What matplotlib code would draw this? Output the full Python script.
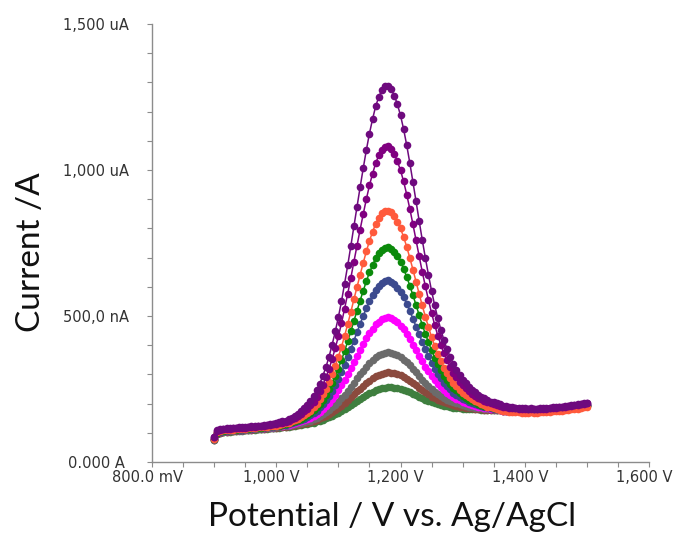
#!/usr/bin/env python3
"""Differential pulse voltammograms (current vs. potential, Ag/AgCl ref)."""

import numpy as np
import matplotlib
matplotlib.use("Agg")
import matplotlib.pyplot as plt
from matplotlib.ticker import FixedLocator, MultipleLocator
from matplotlib.transforms import ScaledTranslation

# scan: 0.900 V -> 1.500 V, 5 mV steps
potential = np.linspace(0.900, 1.500, 121)

# currents in nA, one list per concentration (highest first)
cur_1 = [86, 108, 112, 114, 115, 116, 117, 118, 119, 119, 120, 121, 122, 123,
         125, 125, 127, 128, 130, 131, 134, 136, 139, 142, 147, 152, 159, 165,
         174, 184, 195, 208, 225, 245, 268, 295, 325, 361, 402, 447, 496, 550,
         611, 673, 739, 807, 874, 941, 1006, 1068, 1125, 1174, 1218, 1250, 1274, 1287,
         1288, 1277, 1255, 1225, 1187, 1140, 1085, 1024, 959, 893, 826, 761, 699, 641,
         586, 537, 492, 453, 417, 386, 360, 336, 316, 298, 282, 269, 258, 248,
         239, 231, 224, 219, 212, 207, 204, 201, 197, 193, 191, 189, 188, 186,
         185, 184, 184, 183, 184, 183, 183, 184, 184, 185, 186, 187, 188, 189,
         190, 192, 193, 194, 196, 197, 199, 201, 203]
cur_2 = [84, 106, 110, 112, 113, 114, 115, 116, 117, 117, 118, 119, 120, 121,
         123, 123, 125, 126, 128, 129, 131, 132, 135, 138, 142, 147, 152, 158,
         165, 173, 183, 194, 207, 224, 243, 265, 290, 319, 353, 390, 430, 475,
         525, 576, 630, 686, 741, 796, 849, 900, 947, 987, 1023, 1050, 1069, 1080,
         1081, 1072, 1055, 1030, 999, 961, 916, 867, 814, 760, 705, 652, 602, 555,
         510, 470, 433, 401, 372, 348, 326, 306, 290, 275, 263, 252, 242, 234,
         227, 220, 215, 210, 205, 201, 198, 196, 193, 189, 187, 185, 185, 184,
         183, 182, 182, 181, 182, 181, 181, 182, 182, 183, 184, 185, 186, 187,
         188, 190, 191, 192, 194, 195, 197, 199, 201]
cur_3 = [80, 102, 106, 108, 109, 110, 111, 112, 113, 113, 114, 115, 116, 117,
         119, 119, 120, 121, 123, 124, 125, 127, 130, 132, 135, 139, 143, 148,
         154, 160, 168, 176, 187, 200, 215, 232, 251, 274, 300, 329, 360, 394,
         432, 472, 513, 557, 599, 641, 682, 721, 757, 788, 816, 837, 852, 860,
         861, 855, 842, 823, 800, 771, 737, 699, 659, 618, 576, 536, 498, 462,
         428, 398, 370, 346, 323, 305, 287, 272, 260, 248, 238, 228, 221, 215,
         210, 204, 198, 195, 190, 187, 185, 181, 179, 176, 175, 172, 171, 171,
         170, 169, 169, 169, 170, 169, 169, 170, 170, 171, 172, 173, 174, 175,
         176, 178, 179, 180, 182, 183, 185, 187, 189]
cur_4 = [79, 101, 105, 107, 108, 109, 110, 111, 112, 112, 113, 114, 115, 116,
         118, 118, 119, 120, 122, 122, 124, 125, 128, 130, 132, 136, 140, 143,
         148, 154, 160, 168, 177, 188, 200, 214, 230, 249, 271, 294, 320, 349,
         380, 413, 447, 483, 518, 553, 586, 619, 649, 674, 698, 715, 727, 734,
         735, 730, 720, 705, 686, 662, 634, 604, 571, 538, 503, 470, 439, 410,
         382, 357, 334, 315, 296, 281, 267, 254, 245, 236, 227, 220, 213, 209,
         205, 199, 196, 192, 189, 187, 184, 183, 181, 178, 177, 175, 175, 174,
         174, 173, 173, 173, 174, 173, 173, 174, 174, 175, 176, 177, 178, 179,
         180, 182, 183, 184, 186, 187, 189, 191, 193]
cur_5 = [78, 100, 104, 106, 107, 108, 109, 110, 111, 111, 112, 113, 114, 115,
         116, 116, 118, 119, 120, 121, 122, 124, 126, 128, 130, 133, 136, 139,
         144, 148, 153, 160, 167, 176, 187, 198, 211, 226, 244, 263, 284, 307,
         333, 359, 387, 416, 444, 473, 500, 527, 551, 571, 590, 604, 614, 621,
         622, 617, 609, 597, 582, 564, 542, 517, 491, 464, 437, 411, 386, 363,
         340, 320, 302, 286, 272, 260, 249, 238, 231, 223, 217, 211, 206, 203,
         199, 195, 192, 190, 188, 185, 183, 182, 181, 178, 177, 176, 175, 175,
         174, 174, 174, 173, 174, 174, 174, 175, 175, 176, 177, 178, 179, 180,
         181, 183, 184, 185, 187, 188, 190, 192, 194]
cur_6 = [78, 100, 104, 106, 107, 108, 109, 110, 111, 111, 112, 113, 114, 115,
         116, 116, 118, 119, 120, 120, 122, 123, 125, 126, 128, 131, 133, 136,
         139, 143, 147, 152, 157, 165, 172, 181, 191, 202, 216, 230, 245, 262,
         281, 301, 321, 342, 363, 384, 404, 424, 441, 457, 471, 481, 489, 494,
         495, 492, 486, 478, 467, 454, 438, 421, 402, 383, 363, 345, 327, 311,
         294, 280, 267, 256, 245, 237, 229, 221, 216, 211, 206, 201, 198, 196,
         193, 190, 188, 186, 184, 182, 181, 180, 179, 176, 176, 175, 175, 174,
         174, 174, 174, 173, 174, 174, 174, 175, 175, 176, 177, 178, 179, 180,
         181, 183, 184, 185, 187, 188, 190, 192, 194]
cur_7 = [76, 98, 102, 104, 105, 106, 107, 108, 109, 109, 110, 111, 112, 113,
         114, 114, 115, 116, 118, 118, 119, 120, 122, 123, 125, 127, 129, 131,
         133, 136, 139, 142, 146, 152, 157, 163, 170, 177, 187, 196, 207, 218,
         231, 244, 258, 272, 286, 300, 313, 327, 339, 349, 359, 366, 371, 375,
         376, 374, 371, 366, 359, 351, 341, 331, 319, 307, 294, 282, 271, 261,
         250, 241, 233, 226, 219, 214, 209, 204, 201, 198, 195, 191, 189, 188,
         186, 185, 184, 182, 181, 181, 180, 178, 178, 176, 176, 175, 175, 175,
         175, 174, 174, 174, 175, 175, 175, 176, 176, 177, 178, 179, 180, 181,
         182, 184, 185, 186, 188, 189, 191, 193, 195]
cur_8 = [75, 97, 101, 103, 104, 105, 106, 107, 108, 108, 109, 110, 111, 112,
         113, 113, 114, 115, 116, 117, 118, 119, 120, 121, 123, 125, 126, 128,
         130, 132, 135, 137, 140, 145, 149, 153, 158, 163, 171, 177, 185, 193,
         203, 212, 221, 232, 242, 251, 261, 271, 279, 287, 294, 299, 303, 306,
         307, 306, 304, 301, 297, 292, 285, 278, 270, 262, 254, 246, 239, 232,
         224, 219, 213, 209, 204, 201, 197, 194, 192, 190, 188, 186, 185, 184,
         183, 182, 180, 179, 179, 178, 178, 177, 177, 175, 175, 175, 175, 175,
         174, 174, 174, 174, 175, 175, 175, 176, 176, 177, 178, 179, 180, 181,
         182, 184, 185, 186, 188, 189, 191, 193, 195]
cur_9 = [74, 96, 100, 102, 103, 104, 105, 106, 107, 107, 108, 109, 110, 111,
         112, 112, 113, 114, 115, 115, 116, 118, 119, 120, 121, 123, 124, 126,
         127, 129, 131, 133, 135, 139, 142, 145, 149, 153, 158, 163, 168, 174,
         181, 187, 194, 202, 209, 216, 222, 229, 235, 240, 246, 250, 253, 255,
         256, 256, 255, 253, 251, 247, 244, 239, 234, 230, 224, 219, 214, 210,
         205, 202, 198, 196, 192, 191, 188, 186, 185, 184, 183, 182, 181, 181,
         181, 180, 179, 179, 178, 178, 178, 177, 177, 176, 176, 176, 175, 175,
         175, 175, 175, 175, 176, 176, 176, 177, 177, 178, 179, 180, 181, 182,
         183, 185, 186, 187, 189, 190, 192, 194, 196]

series = [cur_9, cur_8, cur_7, cur_6, cur_5, cur_4, cur_3, cur_2, cur_1]
colors = ["#3f7f3f", "#8b4a3e", "#6b6b6b", "#ff00ff", "#3c4a8e",
          "#0b8a0b", "#ff5a3c", "#800080", "#6e0a7e"]

x_ticks = [0.8, 1.0, 1.2, 1.4, 1.6]
x_labels = ["800.0 mV", "1,000 V", "1,200 V", "1,400 V", "1,600 V"]
y_ticks = [0, 500, 1000, 1500]
y_labels = ["0.000 A", "500,0 nA", "1,000 uA", "1,500 uA"]

fig = plt.figure(figsize=(6.75, 5.4), dpi=100)
ax = fig.add_axes([152 / 675, 1 - 462 / 540, 497 / 675, 438 / 540])

for cur, col in zip(series, colors):
    ax.plot(potential, cur, color=col, lw=1.1, marker="o", ms=5.5,
            markeredgewidth=0, zorder=3)

ax.set_xlim(0.8, 1.6)
ax.set_ylim(0, 1500)

for side in ("top", "right"):
    ax.spines[side].set_visible(False)
for side in ("left", "bottom"):
    ax.spines[side].set_color("#8c8c8c")
    ax.spines[side].set_linewidth(1.0)

ax.xaxis.set_major_locator(FixedLocator(x_ticks))
ax.xaxis.set_minor_locator(MultipleLocator(0.05))
ax.yaxis.set_major_locator(FixedLocator(y_ticks))
ax.yaxis.set_minor_locator(MultipleLocator(100))
ax.set_xticklabels(x_labels)
ax.set_yticklabels(y_labels)

ax.tick_params(which="both", direction="out", length=3.6, width=0.8,
               color="#8c8c8c", labelsize=10.5, labelcolor="#333333")
ax.tick_params(axis="x", which="major", pad=2.0)
ax.tick_params(axis="y", which="major", pad=36.5)

shift = ScaledTranslation(-5 / 100, 0, fig.dpi_scale_trans)
for lab in ax.get_xticklabels():
    lab.set_transform(lab.get_transform() + shift)
for lab in ax.get_yticklabels():
    lab.set_horizontalalignment("center")

fig.text(31 / 675, 1 - 252 / 540, "Current /A", rotation=90,
         ha="center", va="center", fontsize=24, family="Lato", color="#111111")
fig.text(392 / 675, 1 - 517 / 540, "Potential / V vs. Ag/AgCl",
         ha="center", va="center", fontsize=24, family="Lato", color="#111111")

fig.savefig("out.png", dpi=100)
